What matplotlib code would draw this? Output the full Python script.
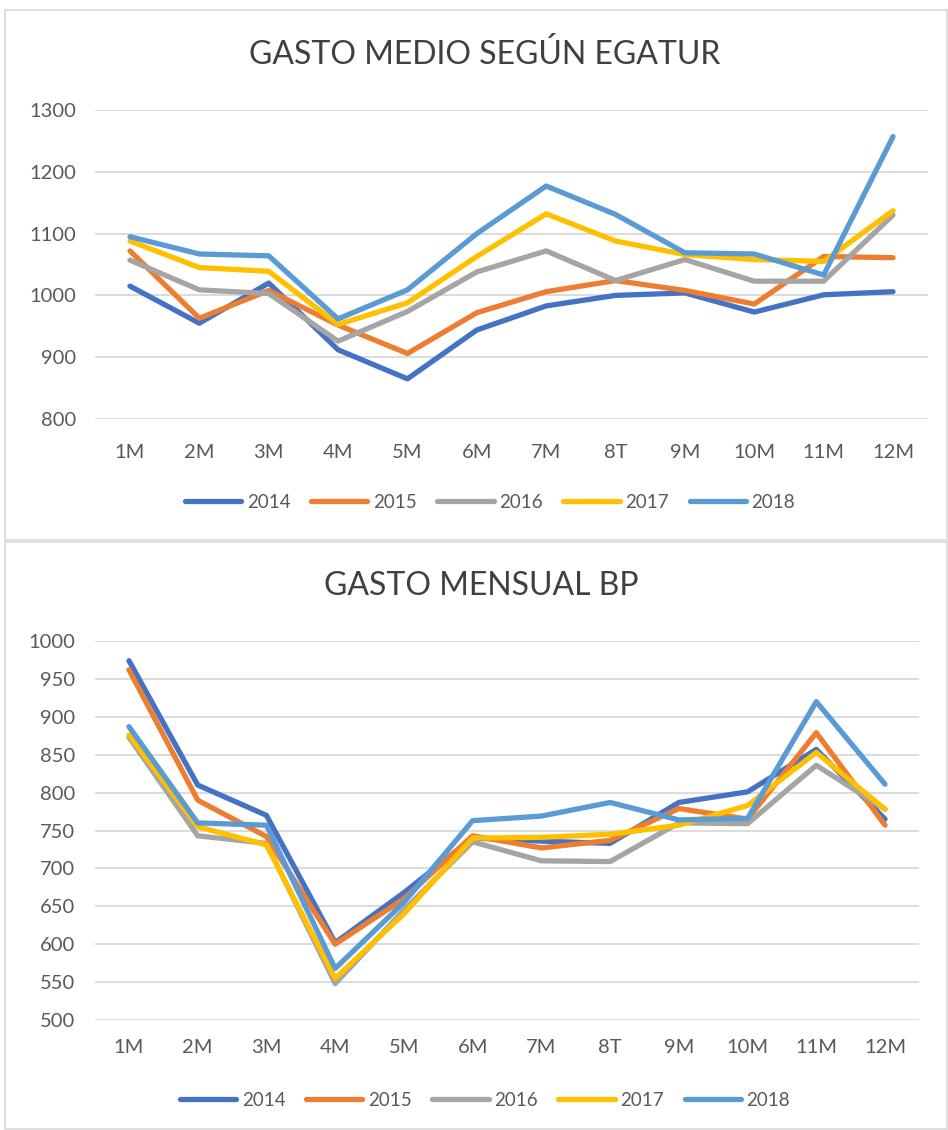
import matplotlib.pyplot as plt
from matplotlib.patches import Rectangle

# months on the x axis (8T is how the source labels August)
months = ['1M', '2M', '3M', '4M', '5M', '6M', '7M', '8T', '9M', '10M', '11M', '12M']
years = ['2014', '2015', '2016', '2017', '2018']
colors = ['#4472C4', '#ED7D31', '#A5A5A5', '#FFC000', '#5B9BD5']

# gasto medio segun EGATUR
egatur_2014 = [1015, 955, 1020, 912, 865, 944, 983, 1000, 1004, 973, 1001, 1006]
egatur_2015 = [1072, 963, 1008, 952, 906, 972, 1006, 1024, 1008, 986, 1063, 1061]
egatur_2016 = [1057, 1009, 1003, 926, 974, 1038, 1072, 1024, 1058, 1023, 1023, 1130]
egatur_2017 = [1088, 1045, 1039, 953, 988, 1063, 1132, 1088, 1066, 1058, 1055, 1137]
egatur_2018 = [1095, 1067, 1064, 962, 1009, 1100, 1177, 1131, 1069, 1067, 1033, 1257]

# gasto mensual BP
bp_2014 = [974, 810, 770, 602, 668, 740, 736, 733, 787, 801, 857, 765]
bp_2015 = [962, 790, 742, 600, 660, 743, 727, 737, 779, 765, 879, 757]
bp_2016 = [873, 743, 733, 548, 645, 735, 710, 709, 760, 759, 836, 778]
bp_2017 = [876, 755, 731, 555, 640, 740, 741, 745, 757, 783, 853, 778]
bp_2018 = [887, 760, 757, 568, 655, 763, 769, 787, 764, 766, 920, 811]

W, H = 948, 1130
plt.rcParams['font.family'] = ['Lato', 'DejaVu Sans']

fig = plt.figure(figsize=(W / 100, H / 100), dpi=100)


def px_box(x0, y0, x1, y1):
    # pixel box (top-left origin) -> figure fraction rect
    return [x0 / W, 1 - y1 / H, (x1 - x0) / W, (y1 - y0) / H]


def draw_panel(rect_px, ax_px, title, title_xy, series, ylim, ystep, legend_xy, xpad):
    x0, y0, x1, y1 = rect_px
    fig.patches.append(Rectangle((x0 / W, 1 - y1 / H), (x1 - x0) / W, (y1 - y0) / H,
                                 transform=fig.transFigure, fill=False,
                                 edgecolor='#d9d9d9', linewidth=1.2))
    ax = fig.add_axes(px_box(*ax_px))
    for vals, c, lab in zip(series, colors, years):
        ax.plot(range(len(months)), vals, color=c, linewidth=3.8, label=lab,
                solid_capstyle='round', solid_joinstyle='round')
    ax.set_xlim(-0.5, len(months) - 0.5)
    ax.set_ylim(*ylim)
    ax.set_yticks(range(ylim[0], ylim[1] + 1, ystep))
    ax.set_xticks(range(len(months)))
    ax.set_xticklabels(months)
    ax.grid(axis='y', color='#d9d9d9', linewidth=1.3)
    ax.set_axisbelow(True)
    for s in ax.spines.values():
        s.set_visible(False)
    ax.tick_params(length=0, labelsize=14.5, colors='#595959')
    ax.tick_params(axis='x', pad=xpad)
    ax.tick_params(axis='y', pad=14)
    fig.text(title_xy[0] / W, 1 - title_xy[1] / H, title, ha='center', va='center',
             fontsize=23, color='#404040')
    h, l = ax.get_legend_handles_labels()
    fig.legend(h, l, loc='center', bbox_to_anchor=(legend_xy[0] / W, 1 - legend_xy[1] / H),
               ncol=5, frameon=False, fontsize=13.5, handlelength=3.0,
               columnspacing=1.1, handletextpad=0.3, labelcolor='#595959')
    return ax


draw_panel((5, 10, 947, 540), (95.3, 110, 927.7, 419), 'GASTO MEDIO SEGÚN EGATUR', (485, 54),
           [egatur_2014, egatur_2015, egatur_2016, egatur_2017, egatur_2018],
           (800, 1300), 100, (490, 502), 18)
draw_panel((5, 542, 947, 1129), (94.6, 641, 919.4, 1020), 'GASTO MENSUAL BP', (481, 586),
           [bp_2014, bp_2015, bp_2016, bp_2017, bp_2018],
           (500, 1000), 50, (485, 1100), 14)

fig.savefig('out.png', dpi=100)
